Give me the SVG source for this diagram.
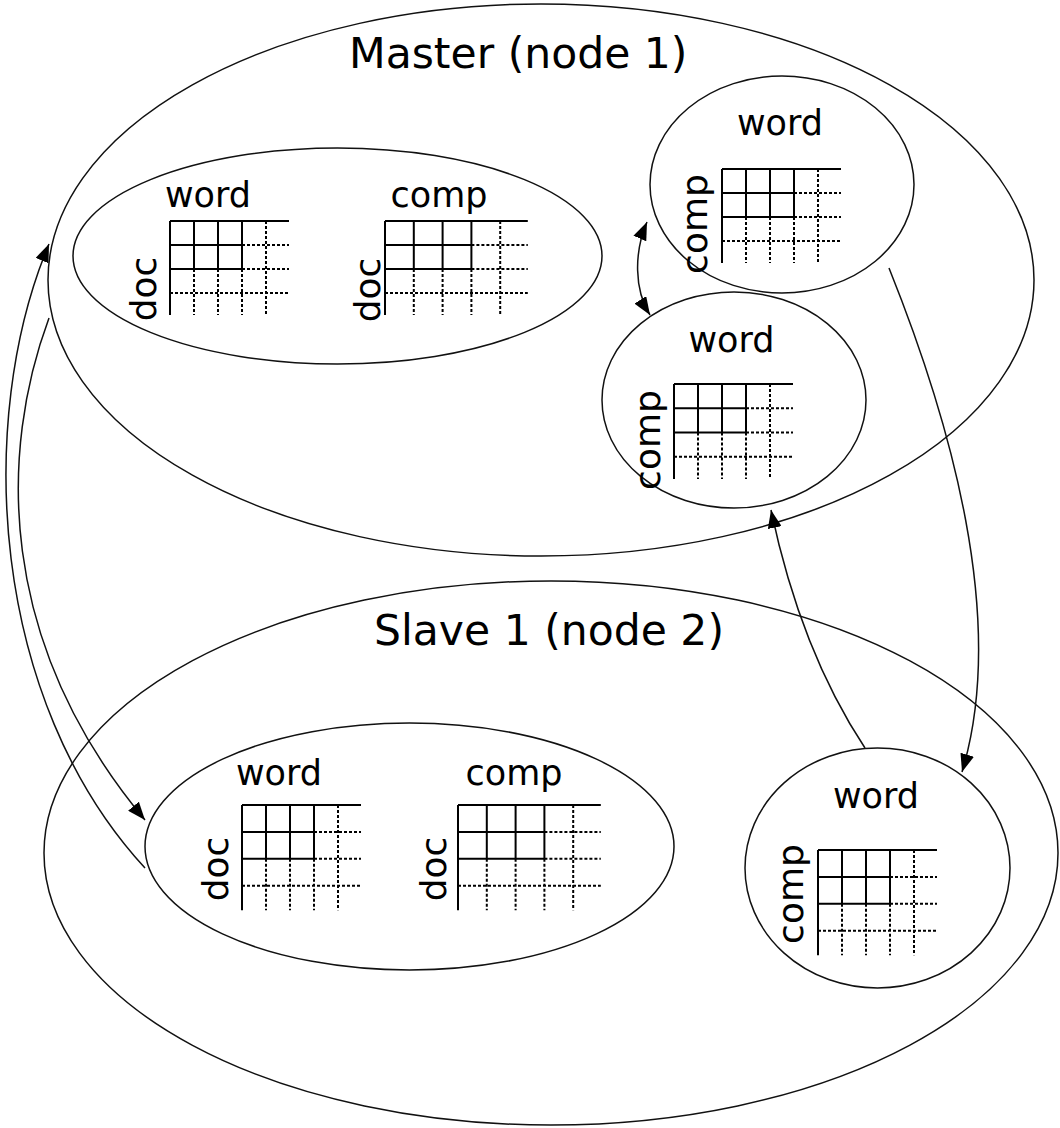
<svg xmlns="http://www.w3.org/2000/svg" xmlns:xlink="http://www.w3.org/1999/xlink" width="1060" height="1128" viewBox="0 0 1060 1128">
  <style>
    .shell { fill: none; stroke: #111; stroke-width: 1.5; }
    .title { font-family: "DejaVu Sans", "Liberation Sans", sans-serif; font-size: 42.5px; fill: #000; }
    .lbl { font-family: "DejaVu Sans", "Liberation Sans", sans-serif; font-size: 35px; fill: #000; text-anchor: middle; }
    .rlbl { font-family: "DejaVu Sans", "Liberation Sans", sans-serif; font-size: 36px; fill: #000; text-anchor: middle; }
    .solid { fill: none; stroke: #000; stroke-width: 2; vector-effect: non-scaling-stroke; }
    .dot { fill: none; stroke: #000; stroke-width: 2; stroke-dasharray: 3 2; vector-effect: non-scaling-stroke; }
    .link { fill: none; stroke: #111; stroke-width: 1.5; }
  </style>
  <defs>
    <marker id="tip" viewBox="0 0 18 14" refX="18" refY="7" markerWidth="18" markerHeight="14" markerUnits="userSpaceOnUse" orient="auto-start-reverse">
      <path d="M0,0 L18,7 L0,14 z" fill="#000"/>
    </marker>
    <!-- matrix: 3x2 filled block of solid cells, remaining cells dotted -->
    <g id="grid">
      <path class="solid" d="M0,0 H119 M0,0 V94 M0,24 H72 M0,48 H72 M24,0 V48 M48,0 V48 M72,0 V48"/>
      <path class="dot" d="M72,24 H119 M72,48 H119 M0,72 H119 M24,48 V94 M48,48 V94 M72,48 V94 M96,0 V94"/>
    </g>
  </defs>

  <g id="master">
    <ellipse class="shell" cx="541" cy="280" rx="493" ry="276"/>
    <text class="title" x="349" y="68">Master (node 1)</text>
  </g>

  <g id="slave">
    <ellipse class="shell" cx="551" cy="853" rx="507" ry="272"/>
    <text class="title" x="374" y="645">Slave 1 (node 2)</text>
  </g>

  <g id="master-doc">
    <ellipse class="shell" cx="337.5" cy="256" rx="264.5" ry="108"/>
    <text class="lbl" x="208" y="207">word</text>
    <text class="rlbl" transform="translate(155.5,289) rotate(-90)">doc</text>
    <use xlink:href="#grid" transform="translate(170,221)"/>
    <text class="lbl" x="439" y="207">comp</text>
    <text class="rlbl" transform="translate(380,290) rotate(-90)">doc</text>
    <use xlink:href="#grid" transform="translate(385,221) scale(1.2,1)"/>
  </g>

  <g id="master-word-a">
    <ellipse class="shell" cx="782" cy="184.5" rx="132" ry="108.5"/>
    <text class="lbl" x="780" y="135">word</text>
    <text class="rlbl" transform="translate(706.5,224) rotate(-90)">comp</text>
    <use xlink:href="#grid" transform="translate(722,169)"/>
  </g>

  <g id="master-word-b">
    <ellipse class="shell" cx="734" cy="400" rx="132" ry="108"/>
    <text class="lbl" x="731.5" y="352">word</text>
    <text class="rlbl" transform="translate(660,440) rotate(-90)">comp</text>
    <use xlink:href="#grid" transform="translate(674,384) scale(1,1.01)"/>
  </g>

  <g id="slave-doc">
    <ellipse class="shell" cx="409.5" cy="846.5" rx="264.5" ry="123.5"/>
    <text class="lbl" x="279" y="785">word</text>
    <text class="rlbl" transform="translate(228,869) rotate(-90)">doc</text>
    <use xlink:href="#grid" transform="translate(242,805) scale(1,1.12)"/>
    <text class="lbl" x="514" y="785">comp</text>
    <text class="rlbl" transform="translate(446,869) rotate(-90)">doc</text>
    <use xlink:href="#grid" transform="translate(458,805) scale(1.2,1.12)"/>
  </g>

  <g id="slave-word">
    <ellipse class="shell" cx="877.5" cy="868" rx="132.5" ry="120"/>
    <text class="lbl" x="876" y="808">word</text>
    <text class="rlbl" transform="translate(803,894) rotate(-90)">comp</text>
    <use xlink:href="#grid" transform="translate(818,850) scale(1,1.12)"/>
  </g>

  <g id="connectors">
    <path class="link" d="M145,868 C -10,700 -25,420 49,244" marker-end="url(#tip)"/>
    <path class="link" d="M49,318 C 0,450 -5,640 145,820" marker-end="url(#tip)"/>
    <path class="link" d="M647,222 C 634,252 634,290 650,315" marker-start="url(#tip)" marker-end="url(#tip)"/>
    <path class="link" d="M889,268 C 950,420 1008,620 962,772" marker-end="url(#tip)"/>
    <path class="link" d="M865,748 C 820,680 790,600 771,510" marker-end="url(#tip)"/>
  </g>
</svg>
